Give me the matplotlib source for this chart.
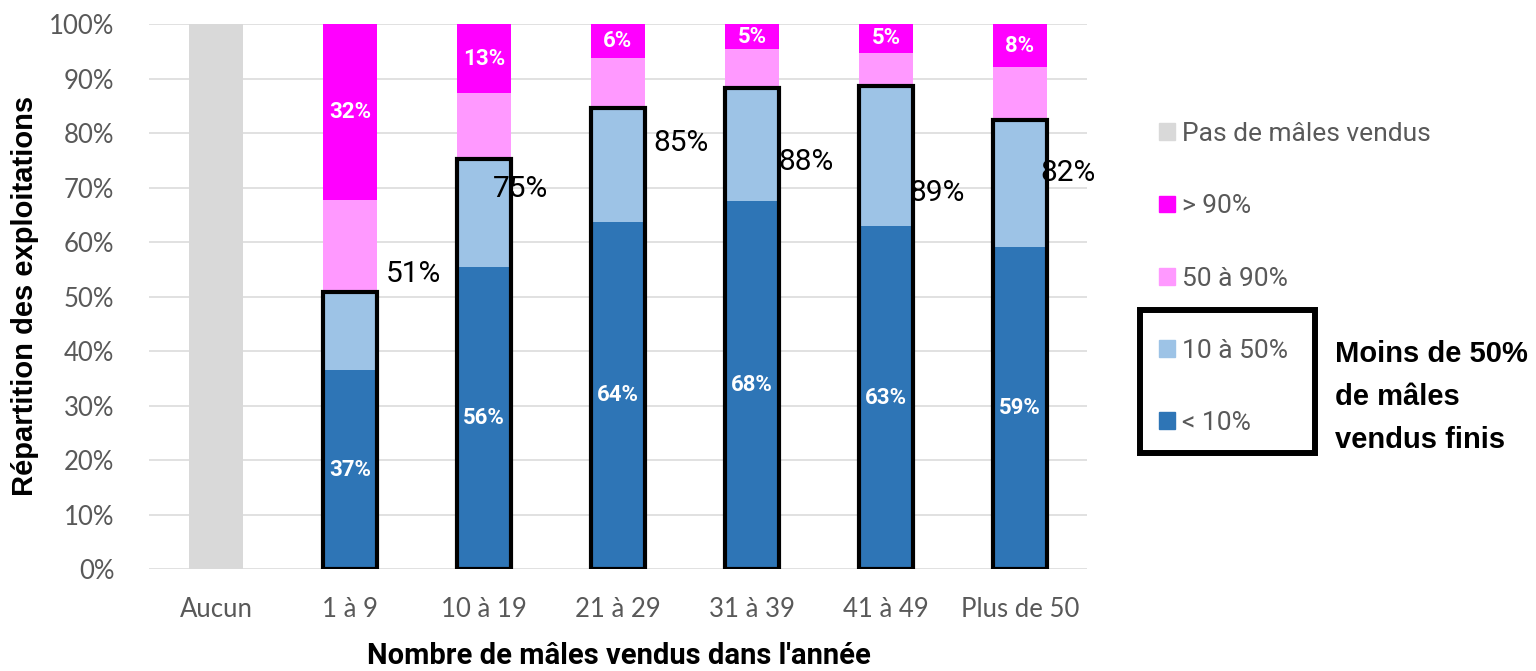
import matplotlib
matplotlib.use("Agg")
import matplotlib.pyplot as plt
from matplotlib.patches import Patch, Rectangle
import numpy as np

# =========================
# DONNEES
# =========================
categories = ["Aucun", "1 à 9", "10 à 19", "21 à 29", "31 à 39", "41 à 49", "Plus de 50"]

pas_de_males = [100, 0, 0, 0, 0, 0, 0]
moins_10 = [0, 36.6, 55.5, 63.8, 67.6, 63.0, 59.2]
de_10_a_50 = [0, 14.3, 19.8, 20.8, 20.7, 25.6, 23.2]
de_50_a_90 = [0, 16.9, 12.1, 9.2, 7.1, 6.2, 9.7]
plus_90 = [0, 32.2, 12.6, 6.2, 4.6, 5.2, 7.9]

series_names = ["Pas de mâles vendus", "> 90%", "50 à 90%", "10 à 50%", "< 10%"]

# placement manuel des etiquettes "total < 50%" (comme dans Excel)
total_dx = [0, 0.47, 0.27, 0.47, 0.40, 0.38, 0.36]
total_y = [0, 54.2, 69.8, 78.2, 74.7, 69.0, 72.8]

# =========================
# STYLE
# =========================
C_GRIS = "#D9D9D9"
C_MAGENTA = "#FF00FF"
C_ROSE = "#FF99FF"
C_BLEU_CLAIR = "#9DC3E6"
C_BLEU = "#2E75B6"
C_TEXTE = "#595959"

NARROW = ["Roboto", "DejaVu Sans"]
TICKS = ["Lato", "DejaVu Sans"]
BOLD = ["Liberation Sans", "DejaVu Sans"]

W, H = 1536, 671
fig = plt.figure(figsize=(W / 100, H / 100), dpi=100)
ax = fig.add_axes([149 / W, 1 - 569.3 / H, (1087 - 149) / W, (569.3 - 24.3) / H])

x = np.arange(len(categories))
width = 0.4

a = np.array(pas_de_males)
b = np.array(moins_10)
c = np.array(de_10_a_50)
d = np.array(de_50_a_90)
e = np.array(plus_90)

ax.bar(x, a, width, color=C_GRIS, zorder=2)
ax.bar(x, b, width, color=C_BLEU, zorder=2)
ax.bar(x, c, width, bottom=b, color=C_BLEU_CLAIR, zorder=2)
ax.bar(x, d, width, bottom=b + c, color=C_ROSE, zorder=2)
ax.bar(x, e, width, bottom=b + c + d, color=C_MAGENTA, zorder=2)

# contour noir autour de la part "moins de 50%"
total = b + c
idx = total > 0
ax.bar(x[idx], total[idx], width, fill=False, edgecolor="black", linewidth=3, zorder=3)

# etiquettes
for i in x[idx]:
    ax.text(i, b[i] / 2, f"{round(b[i])}%", ha="center", va="center",
            color="white", fontsize=16, fontweight="bold", family=NARROW, zorder=4)
    ax.text(i, b[i] + c[i] + d[i] + e[i] / 2, f"{round(e[i])}%", ha="center", va="center",
            color="white", fontsize=16, fontweight="bold", family=NARROW, zorder=4)
    ax.text(i + total_dx[i], total_y[i], f"{round(total[i])}%", ha="center", va="center",
            color="black", fontsize=21.5, family=NARROW, zorder=4)

ax.set_xlim(-0.5, len(categories) - 0.5)
ax.set_ylim(0, 100)
ax.set_yticks(np.arange(0, 101, 10))
ax.set_yticklabels([f"{v}%" for v in range(0, 101, 10)])
ax.set_xticks(x)
ax.set_xticklabels(categories)
for lab in ax.get_xticklabels() + ax.get_yticklabels():
    lab.set_family(TICKS)
    lab.set_fontsize(18.5)
    lab.set_color(C_TEXTE)
ax.tick_params(axis="both", length=0)
ax.tick_params(axis="y", pad=25)
ax.tick_params(axis="x", pad=20)
ax.yaxis.grid(True, color=C_GRIS, linewidth=1.1, zorder=0)
ax.set_axisbelow(True)
for s in ax.spines.values():
    s.set_visible(False)

fig.text(25 / W, 1 - 296 / H, "Répartition des exploitations", rotation=90,
         ha="center", va="center", fontsize=21, fontweight="bold", family=BOLD)
fig.text(619 / W, 1 - 656 / H, "Nombre de mâles vendus dans l'année",
         ha="center", va="center", fontsize=21, fontweight="bold", family=NARROW)

# legende
handles = [Patch(color=col) for col in [C_GRIS, C_MAGENTA, C_ROSE, C_BLEU_CLAIR, C_BLEU]]
leg = fig.legend(handles, series_names, loc="upper left",
                 bbox_to_anchor=(1159 / W, 1 - 122 / H), frameon=False,
                 prop={"family": NARROW, "size": 19}, handlelength=0.6,
                 handleheight=0.6, handletextpad=0.28, labelspacing=1.83,
                 borderaxespad=0, borderpad=0)
for t in leg.get_texts():
    t.set_color(C_TEXTE)

fig.patches.append(Rectangle((1140 / W, 1 - 453 / H), 175 / W, 143 / H,
                             fill=False, edgecolor="black", linewidth=4.3,
                             transform=fig.transFigure, figure=fig))
fig.text(1335 / W, 1 - 397 / H, "Moins de 50%\nde mâles\nvendus finis",
         ha="left", va="center", fontsize=21, fontweight="bold", family=BOLD,
         linespacing=1.66)

fig.savefig("out.png", dpi=100)
